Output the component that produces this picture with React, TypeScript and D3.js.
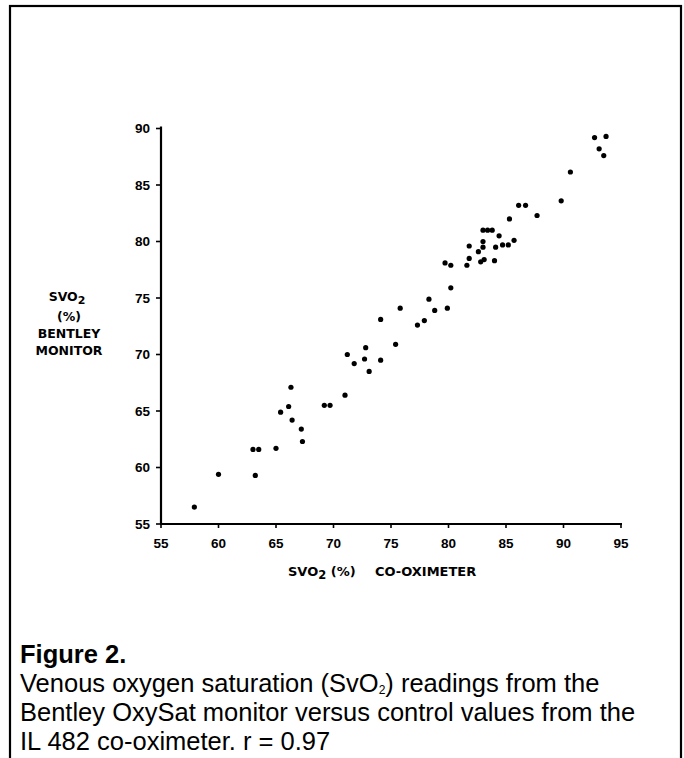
import React from "react";
import * as d3 from "d3";

const coOximeter = [
  57.9, 60.0, 63.2, 63.0, 63.5, 65.0, 65.4, 66.1, 66.3, 66.4, 67.2, 67.3, 69.2, 69.7, 71.0,
  71.2, 71.8, 72.7, 72.8, 73.1, 74.1, 74.1, 75.4, 75.8, 77.3, 77.9, 78.3, 78.8, 79.9, 80.2,
  79.7, 80.2, 81.6, 81.8, 81.8, 82.6, 82.8, 83.1, 84.0, 83.0, 83.0, 84.1, 84.7, 85.2, 85.7,
  84.4, 83.0, 83.4, 83.8, 85.3, 87.7, 86.1, 86.7, 89.8, 90.6, 92.7, 93.7, 93.1, 93.5,
];
const bentley = [
  56.5, 59.4, 59.3, 61.6, 61.6, 61.7, 64.9, 65.4, 67.1, 64.2, 63.4, 62.3, 65.5, 65.5, 66.4,
  70.0, 69.2, 69.6, 70.6, 68.5, 69.5, 73.1, 70.9, 74.1, 72.6, 73.0, 74.9, 73.9, 74.1, 75.9,
  78.1, 77.9, 77.9, 78.5, 79.6, 79.1, 78.2, 78.4, 78.3, 79.5, 80.0, 79.5, 79.7, 79.7, 80.1,
  80.5, 81.0, 81.0, 81.0, 82.0, 82.3, 83.2, 83.2, 83.6, 86.15, 89.2, 89.3, 88.2, 87.6,
];
const xTicks = [55, 60, 65, 70, 75, 80, 85, 90, 95];
const yTicks = [55, 60, 65, 70, 75, 80, 85, 90];
const yLabelLines = ["(%)", "BENTLEY", "MONITOR"];
const captionTitle = "Figure 2.";
const captionLines = [
  ["Venous oxygen saturation (SvO", "2", ") readings from the"],
  ["Bentley OxySat monitor versus control values from the"],
  ["IL 482 co-oximeter. r = 0.97"],
];

export default function App() {
  const x = d3.scaleLinear().domain([55, 95]).range([161, 621]);
  const y = d3.scaleLinear().domain([55, 90]).range([524, 128.5]);
  const tickFont = "'Liberation Sans', Arial, sans-serif";
  const labelFont = "'DejaVu Sans', sans-serif";
  const capFont = "'Liberation Sans', Arial, sans-serif";
  const pts = coOximeter.map((v, i) => [v, bentley[i]]);
  return (
    <svg
      width={684}
      height={758}
      style={{ position: "absolute", left: 0, top: 0, background: "#fff" }}
    >
      <rect x={0} y={0} width={684} height={758} fill="#fff" />
      <rect x={10} y={6} width={671} height={800} fill="none" stroke="#000" strokeWidth={2.2} />
      {/* axes */}
      <line x1={x(55)} x2={x(55)} y1={y(55)} y2={y(90) - 2} stroke="#000" strokeWidth={2.2} />
      <line x1={x(55) - 1} x2={x(95) + 1} y1={y(55)} y2={y(55)} stroke="#000" strokeWidth={2} />
      {yTicks.map((t) => (
        <g key={"y" + t}>
          <line x1={x(55) - 5} x2={x(55)} y1={y(t)} y2={y(t)} stroke="#000" strokeWidth={1.6} />
          <text
            x={x(55) - 11}
            y={y(t) + 4.5}
            textAnchor="end"
            fontFamily={tickFont}
            fontWeight="bold"
            fontSize={13.5}
          >
            {t}
          </text>
        </g>
      ))}
      {xTicks.map((t) => (
        <g key={"x" + t}>
          <line x1={x(t)} x2={x(t)} y1={y(55)} y2={y(55) + 4} stroke="#000" strokeWidth={1.6} />
          <text
            x={x(t)}
            y={y(55) + 24}
            textAnchor="middle"
            fontFamily={tickFont}
            fontWeight="bold"
            fontSize={13.5}
          >
            {t}
          </text>
        </g>
      ))}
      {pts.map(([a, b], i) => (
        <circle key={i} cx={x(a)} cy={y(b)} r={2.6} fill="#000" />
      ))}
      {/* y label */}
      <g fontFamily={labelFont} fontWeight="bold" fontSize={12.5} textAnchor="middle">
        <text x={67} y={301}>
          SVO<tspan fontSize={11} dy={3}>2</tspan>
        </text>
        {yLabelLines.map((l, i) => (
          <text key={l} x={69} y={321 + i * 17}>
            {l}
          </text>
        ))}
      </g>
      {/* x label */}
      <g fontFamily={labelFont} fontWeight="bold" fontSize={13}>
        <text x={288} y={576}>
          SVO<tspan fontSize={11.5} dy={3}>2</tspan>
          <tspan dy={-3}> (%)</tspan>
        </text>
        <text x={375} y={576}>CO-OXIMETER</text>
      </g>
      {/* caption */}
      <text x={20} y={663} fontFamily={capFont} fontWeight="bold" fontSize={25.5}>
        {captionTitle}
      </text>
      {captionLines.map((parts, i) => (
        <text key={i} x={20} y={692 + i * 29} fontFamily={capFont} fontSize={25.5}>
          {parts.length === 3 ? (
            <>
              {parts[0]}
              <tspan fontSize={12} dy={2}>
                {parts[1]}
              </tspan>
              <tspan dy={-2}>{parts[2]}</tspan>
            </>
          ) : (
            parts[0]
          )}
        </text>
      ))}
    </svg>
  );
}
